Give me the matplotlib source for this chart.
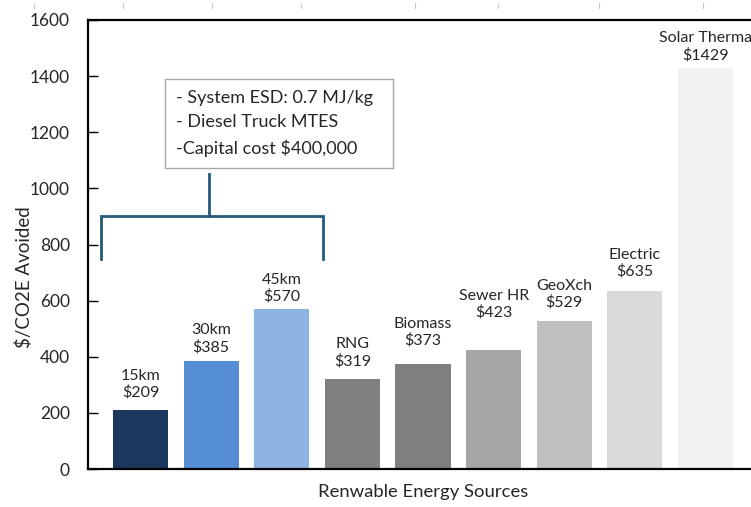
import matplotlib
matplotlib.use("Agg")
import matplotlib.pyplot as plt
from matplotlib.patches import Rectangle
from matplotlib.lines import Line2D

plt.rcParams['font.family'] = ['Lato', 'DejaVu Sans']

# ---- data ----
categories = ["15km", "30km", "45km", "RNG", "Biomass", "Sewer HR", "GeoXch", "Electric", "Solar Therma"]
values = [209, 385, 570, 319, 373, 423, 529, 635, 1429]
bar_colors = ["#1B375E", "#558ED5", "#8EB4E3", "#808080", "#7F7F7F",
              "#A6A6A6", "#BFBFBF", "#D9D9D9", "#F2F2F2"]
yticks = [0, 200, 400, 600, 800, 1000, 1200, 1400, 1600]
box_lines = ["- System ESD: 0.7 MJ/kg", "- Diesel Truck MTES", "-Capital cost $400,000"]
# label center heights (data units) for the two-line labels
label_y = [302, 464, 645, 414, 487, 586, 623, 732, 1505]

fig = plt.figure(figsize=(7.51, 5.07), dpi=100)
ax = fig.add_axes([88/751, 38/507, 670/751, 449/507])

x = list(range(len(categories)))
ax.bar(x, values, width=0.78, color=bar_colors, zorder=2)

for xi, v, c, ly in zip(x, values, categories, label_y):
    ax.text(xi, ly, f"{c}\n${v}", ha='center', va='center', fontsize=11.5,
            color='#262626', linespacing=1.2)

ax.set_xlim(-0.743, 8.743)
ax.set_ylim(0, 1600)
ax.set_yticks(yticks)
ax.set_xticks([])
ax.tick_params(axis='y', direction='in', length=7, width=1, pad=13,
               labelsize=12.5, colors='black')
for tl in ax.get_yticklabels():
    tl.set_color('#262626')
for s in ax.spines.values():
    s.set_linewidth(1.6)
    s.set_color('black')

ax.set_ylabel("$/CO2E Avoided", fontsize=13.5, color='#262626')
ax.yaxis.label.set_verticalalignment('center')
ax.yaxis.set_label_coords(-0.095, 0.427)
ax.set_xlabel("Renwable Energy Sources", fontsize=13.3, color='#262626', labelpad=11)

# text box
ax.add_patch(Rectangle((0.347, 1073), 3.575 - 0.347, 1390 - 1073,
                       facecolor='white', edgecolor='#A6A6A6', linewidth=1.0, zorder=3))
ax.text(0.50, 1232, "\n".join(box_lines), ha='left', va='center', fontsize=13,
        color='#262626', linespacing=1.62, zorder=4)

# bracket
bc = '#235B7A'
ax.plot([-0.559, -0.559, 2.584, 2.584], [748, 902, 902, 748], color=bc, lw=2.0,
        solid_joinstyle='miter', zorder=3)
ax.plot([0.97, 0.97], [902, 1050], color=bc, lw=2.0, zorder=3)

# faint marks along the top edge
for px in [34, 123, 212, 301, 415, 498, 599, 703]:
    fig.add_artist(Line2D([px/751, px/751], [1 - 3/507, 1 - 8/507],
                          color='#CCCCCC', lw=0.8))

fig.savefig("out.png", dpi=100)
